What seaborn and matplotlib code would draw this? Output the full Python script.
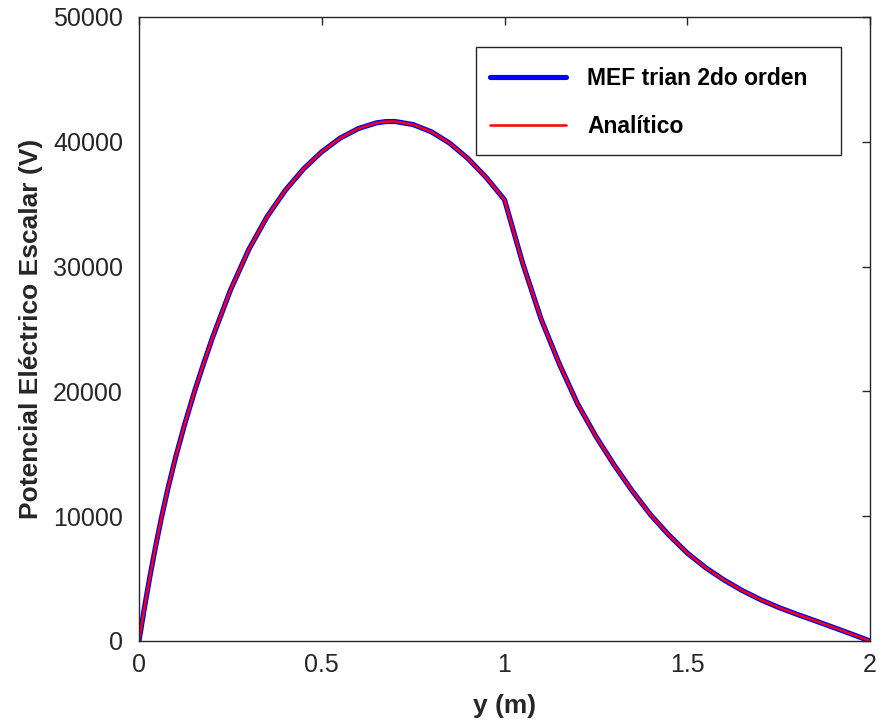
import matplotlib
matplotlib.use("Agg")
import matplotlib.pyplot as plt
from matplotlib.patches import Rectangle
import seaborn as sns
import pandas as pd

# Posición a lo largo del eje y (m) y potencial eléctrico escalar (V)
y_pos = [0.0, 0.015, 0.03, 0.046, 0.062, 0.08, 0.1, 0.125, 0.153, 0.175,
         0.2, 0.25, 0.3, 0.35, 0.4, 0.45, 0.5, 0.55, 0.6, 0.65,
         0.675, 0.7, 0.75, 0.8, 0.85, 0.9, 0.95, 1.0,
         1.05, 1.1, 1.15, 1.2, 1.25, 1.3, 1.35, 1.4, 1.45, 1.5,
         1.55, 1.6, 1.65, 1.7, 1.75, 1.8, 1.85, 1.9, 1.95, 2.0]
v_mef = [0, 2690, 5190, 7660, 9960, 12320, 14700, 17370, 20100, 22070,
         24220, 28100, 31350, 33980, 36100, 37820, 39200, 40290, 41060, 41520,
         41620, 41630, 41380, 40800, 39890, 38660, 37140, 35360,
         30250, 25800, 22200, 19000, 16400, 14100, 12000, 10100, 8480, 7050,
         5880, 4900, 4050, 3320, 2690, 2140, 1620, 1090, 550, 0]
v_analitico = list(v_mef)

x_ticks = [0, 0.5, 1, 1.5, 2]
x_tick_labels = ["0", "0.5", "1", "1.5", "2"]
y_ticks = [0, 10000, 20000, 30000, 40000, 50000]
y_tick_labels = ["0", "10000", "20000", "30000", "40000", "50000"]

df_mef = pd.DataFrame({"y": y_pos, "V": v_mef})
df_ana = pd.DataFrame({"y": y_pos, "V": v_analitico})

sns.set_style("white")
plt.rcParams["font.family"] = ["Liberation Sans", "DejaVu Sans"]

W, H = 884, 726
L, R, T, B = 139, 870, 17, 641
fig = plt.figure(figsize=(W / 100, H / 100), dpi=100)
ax = fig.add_axes([L / W, 1 - B / H, (R - L) / W, (B - T) / H])


def ax_frac(px, py):
    return (px - L) / (R - L), (B - py) / (B - T)


sns.lineplot(data=df_mef, x="y", y="V", ax=ax, color="#0000ff", linewidth=3.7,
             label="MEF trian 2do orden", sort=False, estimator=None)
sns.lineplot(data=df_ana, x="y", y="V", ax=ax, color="#ff0000", linewidth=1.8,
             label="Analítico", sort=False, estimator=None)

ax.set_xlim(0, 2)
ax.set_ylim(0, 50000)
ax.set_xticks(x_ticks)
ax.set_xticklabels(x_tick_labels)
ax.set_yticks(y_ticks)
ax.set_yticklabels(y_tick_labels)

ax.tick_params(direction="in", length=6, width=1, colors="#262626",
               labelsize=18, top=True, right=True)
ax.tick_params(axis="x", pad=9)
ax.tick_params(axis="y", pad=11.5)
for side in ["left", "right", "top", "bottom"]:
    ax.spines[side].set_visible(True)
    ax.spines[side].set_color("#262626")
    ax.spines[side].set_linewidth(1.0)

ax.set_xlabel("y (m)", fontsize=19, fontweight="bold", color="#262626", labelpad=12)
ax.set_ylabel("Potencial Eléctrico Escalar (V)", fontsize=19, fontweight="bold",
              color="#262626", labelpad=7)

# Recuadro de la leyenda
x0, y0 = ax_frac(476, 155)
x1, y1 = ax_frac(841, 47)
ax.add_patch(Rectangle((x0, y0), x1 - x0, y1 - y0, transform=ax.transAxes,
                       facecolor="white", edgecolor="#262626", linewidth=1.0,
                       zorder=4))

leg = ax.legend(loc="upper left", bbox_to_anchor=ax_frac(490, 67),
                fontsize=16.5, frameon=False, handlelength=3.32,
                handletextpad=0.92, labelspacing=1.1, borderpad=0,
                borderaxespad=0)
leg.set_zorder(5)
for txt in leg.get_texts():
    txt.set_fontweight("bold")
    txt.set_color("#000000")

fig.savefig("out.png", dpi=100)
